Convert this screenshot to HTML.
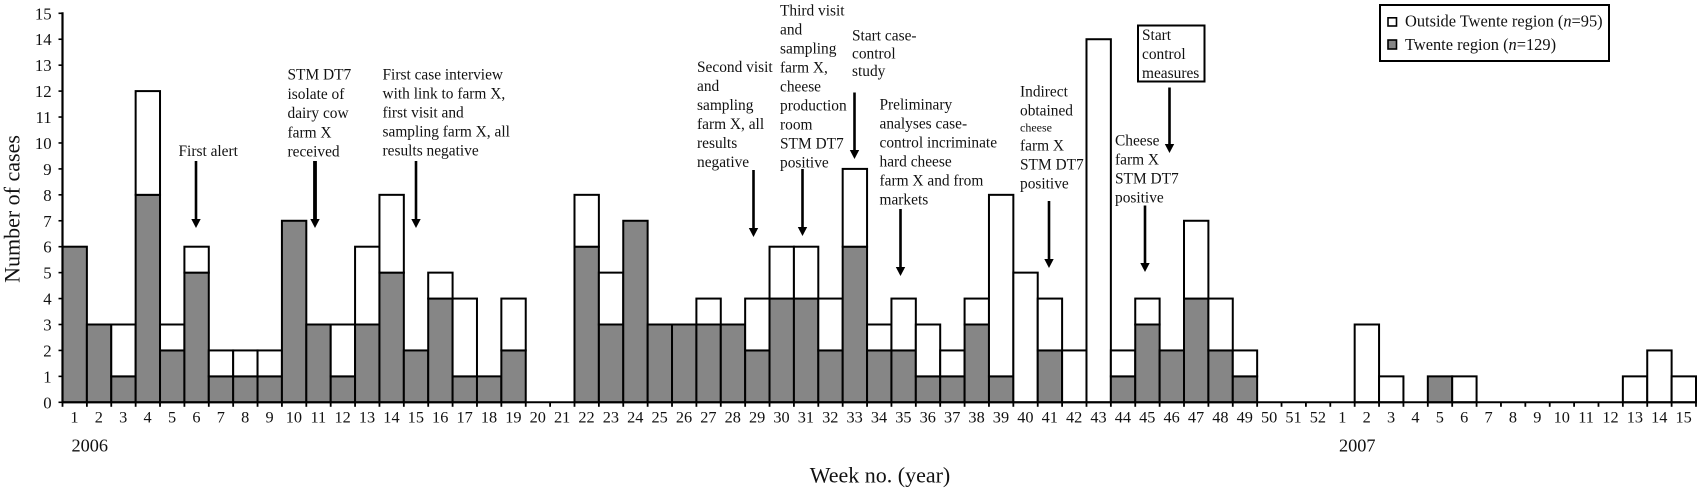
<!DOCTYPE html>
<html lang="en">
<head>
<meta charset="utf-8">
<title>Cases per week, 2006-2007</title>
<style>
html,body{margin:0;padding:0;background:#fff}
#chart{display:block;width:1697px;height:488px}
text{font-family:"Liberation Serif",serif;fill:#111}
.note{font-size:15.4px;transform:translateY(.7px)}
.tick{font-size:16.3px}
.ytick{font-size:16.8px}
.year{font-size:18.3px}
.axis-title{font-size:22px}
.legend-text{font-size:16.4px}
</style>
</head>
<body>
<svg id="chart" xmlns="http://www.w3.org/2000/svg" width="1697" height="488" viewBox="0 0 1697 488">
<g id="bars"></g>
<g id="axes"></g>

<text class="axis-title" transform="translate(19.5,209) rotate(-90)" text-anchor="middle">Number of cases</text>
<text class="axis-title" x="880" y="482.5" text-anchor="middle">Week no. (year)</text>
<text class="year" x="71.5" y="451.5">2006</text>
<text class="year" x="1339" y="451.5">2007</text>

<g>
<text class="note" x="178.5" y="155.5">First alert</text>
<line x1="196" y1="161" x2="196" y2="221" stroke="#000" stroke-width="2.6"/>
<polygon points="191.3,219 200.7,219 196,228" fill="#000"/>
</g>

<g>
<text class="note" x="287.5" y="79"><tspan x="287.5">STM DT7</tspan><tspan x="287.5" dy="19.2">isolate of</tspan><tspan x="287.5" dy="19.2">dairy cow</tspan><tspan x="287.5" dy="19.2">farm X</tspan><tspan x="287.5" dy="19.2">received</tspan></text>
<line x1="315" y1="161" x2="315" y2="221" stroke="#000" stroke-width="3.8"/>
<polygon points="310.3,219 319.7,219 315,228" fill="#000"/>
</g>

<g>
<text class="note" x="382.5" y="79"><tspan x="382.5">First case interview</tspan><tspan x="382.5" dy="19">with link to farm X,</tspan><tspan x="382.5" dy="19">first visit and</tspan><tspan x="382.5" dy="19">sampling farm X, all</tspan><tspan x="382.5" dy="19">results negative</tspan></text>
<line x1="416" y1="161" x2="416" y2="221" stroke="#000" stroke-width="2.6"/>
<polygon points="411.3,219 420.7,219 416,228" fill="#000"/>
</g>

<g>
<text class="note" x="697" y="71.5"><tspan x="697">Second visit</tspan><tspan x="697" dy="19">and</tspan><tspan x="697" dy="19">sampling</tspan><tspan x="697" dy="19">farm X, all</tspan><tspan x="697" dy="19">results</tspan><tspan x="697" dy="19">negative</tspan></text>
<line x1="753.5" y1="170" x2="753.5" y2="230" stroke="#000" stroke-width="2.6"/>
<polygon points="748.8,228 758.2,228 753.5,237" fill="#000"/>
</g>

<g>
<text class="note" x="780" y="15"><tspan x="780">Third visit</tspan><tspan x="780" dy="19">and</tspan><tspan x="780" dy="19">sampling</tspan><tspan x="780" dy="19">farm X,</tspan><tspan x="780" dy="19">cheese</tspan><tspan x="780" dy="19">production</tspan><tspan x="780" dy="19">room</tspan><tspan x="780" dy="19">STM DT7</tspan><tspan x="780" dy="19">positive</tspan></text>
<line x1="802.5" y1="169" x2="802.5" y2="229" stroke="#000" stroke-width="2.6"/>
<polygon points="797.8,227 807.2,227 802.5,236" fill="#000"/>
</g>

<g>
<text class="note" x="852" y="40"><tspan x="852">Start case-</tspan><tspan x="852" dy="17.6">control</tspan><tspan x="852" dy="17.6">study</tspan></text>
<line x1="854.5" y1="92.5" x2="854.5" y2="152" stroke="#000" stroke-width="2.6"/>
<polygon points="849.8,150 859.2,150 854.5,159" fill="#000"/>
</g>

<g>
<text class="note" x="879.5" y="109"><tspan x="879.5">Preliminary</tspan><tspan x="879.5" dy="19">analyses case-</tspan><tspan x="879.5" dy="19">control incriminate</tspan><tspan x="879.5" dy="19">hard cheese</tspan><tspan x="879.5" dy="19">farm X and from</tspan><tspan x="879.5" dy="19">markets</tspan></text>
<line x1="900.5" y1="209" x2="900.5" y2="269" stroke="#000" stroke-width="2.6"/>
<polygon points="895.8,267 905.2,267 900.5,276" fill="#000"/>
</g>

<g>
<text class="note" x="1020" y="96"><tspan x="1020">Indirect</tspan><tspan x="1020" dy="19">obtained</tspan><tspan x="1020" dy="15.7" style="font-size:12px">cheese</tspan><tspan x="1020" dy="19.3">farm X</tspan><tspan x="1020" dy="19">STM DT7</tspan><tspan x="1020" dy="19">positive</tspan></text>
<line x1="1049" y1="201" x2="1049" y2="261" stroke="#000" stroke-width="2.6"/>
<polygon points="1044.3,259 1053.7,259 1049,268" fill="#000"/>
</g>

<g>
<text class="note" x="1115" y="145"><tspan x="1115">Cheese</tspan><tspan x="1115" dy="19">farm X</tspan><tspan x="1115" dy="19">STM DT7</tspan><tspan x="1115" dy="19">positive</tspan></text>
<line x1="1145" y1="205.5" x2="1145" y2="265" stroke="#000" stroke-width="2.6"/>
<polygon points="1140.3,263 1149.7,263 1145,272" fill="#000"/>
</g>

<g>
<rect x="1138" y="25.5" width="66.5" height="56" fill="#fff" stroke="#000" stroke-width="2"/>
<text class="note" x="1142" y="39.5"><tspan x="1142">Start</tspan><tspan x="1142" dy="19">control</tspan><tspan x="1142" dy="19">measures</tspan></text>
<line x1="1169.5" y1="87.5" x2="1169.5" y2="146" stroke="#000" stroke-width="2.6"/>
<polygon points="1164.8,144 1174.2,144 1169.5,153" fill="#000"/>
</g>

<g>
<rect x="1380" y="5" width="229" height="56" fill="#fff" stroke="#000" stroke-width="2"/>
<rect x="1388" y="17.8" width="8.5" height="8.2" fill="#fff" stroke="#000" stroke-width="1.6"/>
<text class="legend-text" x="1405" y="26.7">Outside Twente region (<tspan font-style="italic">n</tspan>=95)</text>
<rect x="1388" y="40" width="8.5" height="9" fill="#868686" stroke="#000" stroke-width="1.6"/>
<text class="legend-text" x="1405" y="50">Twente region (<tspan font-style="italic">n</tspan>=129)</text>
</g>
</svg>

<script>
const weekLabels = [1,2,3,4,5,6,7,8,9,10,11,12,13,14,15,16,17,18,19,20,21,22,23,24,25,26,27,28,29,30,31,32,33,34,35,36,37,38,39,40,41,42,43,44,45,46,47,48,49,50,51,52,1,2,3,4,5,6,7,8,9,10,11,12,13,14,15];
const twenteCases = [6,3,1,8,2,5,1,1,1,7,3,1,3,5,2,4,1,1,2,0,0,6,3,7,3,3,3,3,2,4,4,2,6,2,2,1,1,3,1,0,2,0,0,1,3,2,4,2,1,0,0,0,0,0,0,0,1,0,0,0,0,0,0,0,0,0,0];
const outsideCases = [0,0,2,4,1,1,1,1,1,0,0,2,3,3,0,1,3,0,2,0,0,2,2,0,0,0,1,0,2,2,2,2,3,1,2,2,1,1,7,5,2,2,14,1,1,0,3,2,1,0,0,0,0,3,1,0,0,1,0,0,0,0,0,0,1,2,1];
const yTickLabels = [0,1,2,3,4,5,6,7,8,9,10,11,12,13,14,15];

const SVGNS = 'http://www.w3.org/2000/svg';
const plotLeft = 62.5, plotRight = 1696, plotBottom = 402.3, plotTop = 13.3, yMax = 15;
const xPos = i => plotLeft + i * (plotRight - plotLeft) / weekLabels.length;
const yPos = v => plotBottom - v * (plotBottom - plotTop) / yMax;
const make = (tag, parent) => {
  const el = document.createElementNS(SVGNS, tag);
  parent.appendChild(el);
  return el;
};
const barsGroup = document.getElementById('bars');
const axesGroup = document.getElementById('axes');

function drawSegment(i, from, to, fill) {
  const r = make('rect', barsGroup);
  r.setAttribute('x', xPos(i));
  r.setAttribute('y', yPos(to));
  r.setAttribute('width', xPos(i + 1) - xPos(i));
  r.setAttribute('height', yPos(from) - yPos(to));
  r.setAttribute('fill', fill);
  r.setAttribute('stroke', '#000');
  r.setAttribute('stroke-width', '2');
  return r;
}

weekLabels.forEach((w, i) => {
  const t = twenteCases[i], o = outsideCases[i];
  if (t > 0) {
    const seg = drawSegment(i, 0, t, '#868686');
    
    
  }
  if (o > 0) {
    const seg = drawSegment(i, t, t + o, '#ffffff');
    
    
  }
});

const yAxis = make('line', axesGroup);


yAxis.setAttribute('x1', plotLeft);
yAxis.setAttribute('x2', plotLeft);
yAxis.setAttribute('y1', yPos(yMax) - 1);
yAxis.setAttribute('y2', plotBottom);
yAxis.setAttribute('stroke', '#000');
yAxis.setAttribute('stroke-width', '2.2');

const xAxis = make('line', axesGroup);


xAxis.setAttribute('x1', plotLeft);
xAxis.setAttribute('x2', plotRight);
xAxis.setAttribute('y1', plotBottom);
xAxis.setAttribute('y2', plotBottom);
xAxis.setAttribute('stroke', '#000');
xAxis.setAttribute('stroke-width', '2');

yTickLabels.forEach(v => {
  const tick = make('line', axesGroup);
  
  
  tick.setAttribute('x1', plotLeft - 4);
  tick.setAttribute('x2', plotLeft);
  tick.setAttribute('y1', yPos(v));
  tick.setAttribute('y2', yPos(v));
  tick.setAttribute('stroke', '#000');
  tick.setAttribute('stroke-width', '1.6');
  const label = make('text', axesGroup);
  
  
  label.setAttribute('class', 'ytick');
  label.setAttribute('x', 51.7);
  label.setAttribute('y', yPos(v) + 6);
  label.setAttribute('text-anchor', 'end');
  label.textContent = v;
});

for (let i = 0; i <= weekLabels.length; i++) {
  const tick = make('line', axesGroup);
  
  
  tick.setAttribute('x1', xPos(i));
  tick.setAttribute('x2', xPos(i));
  tick.setAttribute('y1', plotBottom);
  tick.setAttribute('y2', plotBottom + 4.5);
  tick.setAttribute('stroke', '#000');
  tick.setAttribute('stroke-width', '1.8');
}

weekLabels.forEach((w, i) => {
  const label = make('text', axesGroup);
  
  
  label.setAttribute('class', 'tick');
  label.setAttribute('x', (xPos(i) + xPos(i + 1)) / 2 - 0.2);
  label.setAttribute('y', 422.7);
  label.setAttribute('text-anchor', 'middle');
  label.textContent = w;
});
</script>
</body>
</html>
